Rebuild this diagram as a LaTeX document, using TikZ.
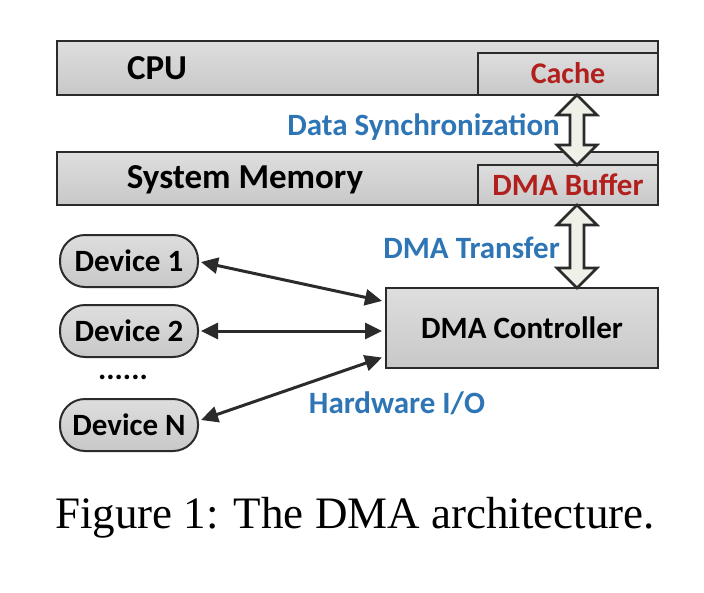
\documentclass[tikz,border=0pt]{standalone}
\usepackage{fontspec}
\setmainfont{Carlito}
\newfontfamily\capfont{Liberation Serif}
\usetikzlibrary{arrows.meta,calc}
\definecolor{boxtop}{HTML}{DEDEDE}
\definecolor{boxbot}{HTML}{C8C8C8}
\definecolor{edge}{HTML}{2B2B2B}
\definecolor{lblue}{HTML}{2E75B6}
\definecolor{lred}{HTML}{B2201D}
\definecolor{fatfill}{HTML}{EFF0E8}
\tikzset{
  box/.style={draw=edge,line width=2pt,top color=boxtop,bottom color=boxbot,inner sep=0pt},
  pill/.style={box,rounded corners=25pt,minimum width=138pt,minimum height=52pt,font=\bfseries\fontsize{31}{36}\selectfont},
  txt/.style={font=\bfseries\fontsize{31}{36}\selectfont,inner sep=0pt},
  bigtxt/.style={font=\bfseries\fontsize{35}{40}\selectfont,inner sep=0pt},
  rtxt/.style={txt,text=lred},
  btxt/.style={font=\bfseries\fontsize{31}{36}\selectfont,text=lblue,inner sep=0pt},
  conn/.style={draw=edge,line width=3pt,{Triangle[length=17pt,width=16pt]}-{Triangle[length=17pt,width=16pt]}},
  fat/.style={draw=edge,line width=2.6pt,fill=fatfill,line join=miter}
}
\newcommand\fatarrow[2]{%
  \draw[fat] let \p1=(#1), \p2=(#2) in
    (\x1,\y1) -- (\x1+20pt,\y1-20pt) -- (\x1+7pt,\y1-20pt) -- (\x1+7pt,\y2+20pt)
    -- (\x1+20pt,\y2+20pt) -- (\x2,\y2) -- (\x1-20pt,\y2+20pt) -- (\x1-7pt,\y2+20pt)
    -- (\x1-7pt,\y1-20pt) -- (\x1-20pt,\y1-20pt) -- cycle;}
\begin{document}
\begin{tikzpicture}[x=1pt,y=-1pt]
\useasboundingbox (0,0) rectangle (704,592);
% CPU
\node[box,minimum width=601pt,minimum height=54pt] (cpu) at (357.5,68) {};
\node[bigtxt] (cputxt) at (157,68) {CPU};
\node[box,minimum width=180pt,minimum height=42pt] (cache) at (568,74) {};
\node[rtxt,font=\bfseries\fontsize{30}{35}\selectfont] at (568,73) {Cache};
% System memory
\node[box,minimum width=601pt,minimum height=53pt] (mem) at (357.5,178.5) {};
\node[bigtxt] (memtxt) at (245,180) {System Memory};
\node[box,minimum width=180pt,minimum height=40pt] (buf) at (568,185) {};
\node[rtxt] at (568,185) {DMA Buffer};
% DMA controller
\node[box,minimum width=272pt,minimum height=80pt] (ctrl) at (522,328) {};
\node[txt] at (ctrl) {DMA Controller};
% devices
\node[pill] (d1) at (129,261) {Device 1};
\node[pill] (d2) at (129,331) {Device 2};
\node[pill] (dn) at (129,425) {Device N};
\node[txt] (dots) at (123,377) {......};
% fat arrows
\coordinate (f1a) at (577,95);
\coordinate (f1b) at (577,165);
\coordinate (f2a) at (577,205);
\coordinate (f2b) at (577,288);
\fatarrow{f1a}{f1b}
\fatarrow{f2a}{f2b}
% labels
\node[btxt,anchor=east] (ds) at (560,127) {Data Synchronization};
\node[btxt,anchor=east] (dt) at (560,248) {DMA Transfer};
\node[btxt] (hw) at (397,403) {Hardware I/O};
% connectors
\draw[conn] ($(d1.east)+(2,1)$) -- ($(ctrl.north west)!0.17!(ctrl.south west)+(-3,0)$);
\draw[conn] ($(d2.east)+(2,0)$) -- ($(ctrl.west)+(-3,3)$);
\draw[conn] ($(dn.east)+(2,-5)$) -- ($(ctrl.north west)!0.86!(ctrl.south west)+(-3,0)$);
% caption
\node[font=\capfont\fontsize{45}{52}\selectfont,inner sep=0pt] (cap) at (355,518) {Figure 1: The DMA architecture.};
\end{tikzpicture}
\end{document}
